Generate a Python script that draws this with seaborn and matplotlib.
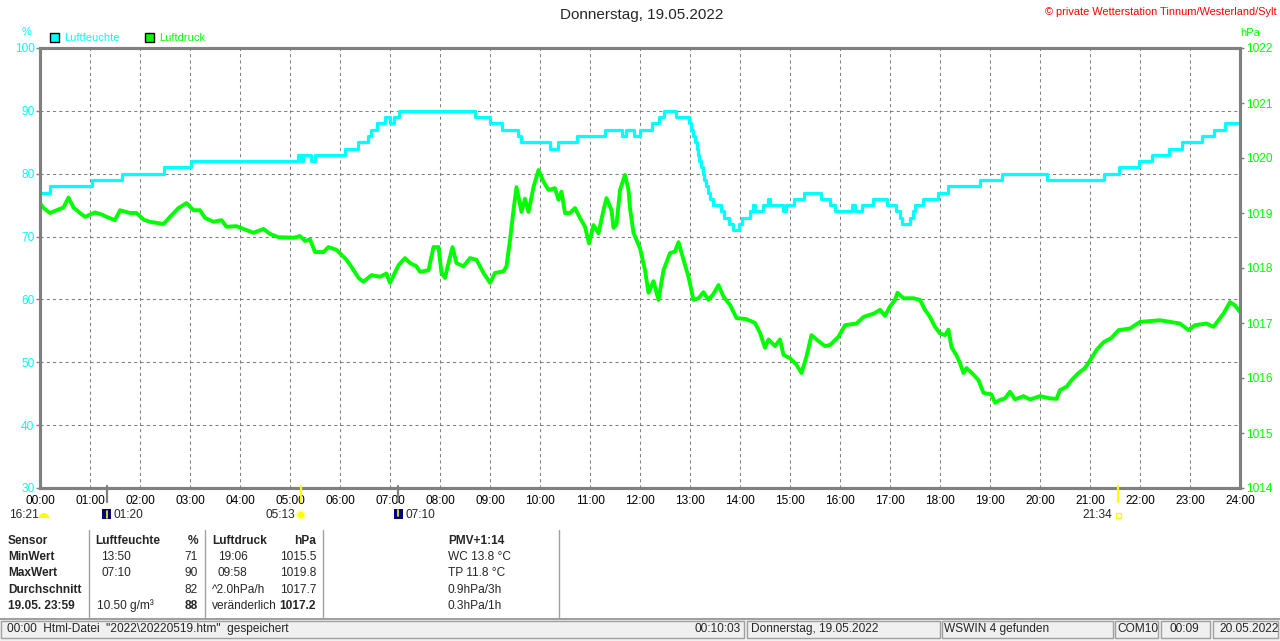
import matplotlib
matplotlib.use("Agg")
import matplotlib.pyplot as plt
import seaborn as sns
from matplotlib.patches import Rectangle, Wedge, Circle

# Luftfeuchte (%), step changes: hour -> value
hum_t = [0.00, 0.20, 1.04, 1.64, 2.47, 3.02, 5.16, 5.22, 5.26, 5.42, 5.50,
         6.10, 6.36, 6.56, 6.62, 6.73, 6.90, 7.00, 7.07, 7.17, 8.70, 9.00,
         9.24, 9.56, 9.62, 10.20, 10.36, 10.74, 11.30, 11.64, 11.72, 11.87,
         12.00, 12.23, 12.37, 12.47, 12.72, 12.98, 13.02, 13.06, 13.10, 13.14,
         13.16, 13.18, 13.22, 13.26, 13.28, 13.32, 13.36, 13.40, 13.46, 13.62,
         13.67, 13.78, 13.86, 13.97, 14.04, 14.20, 14.25, 14.30, 14.45, 14.55,
         14.60, 14.85, 14.92, 15.07, 15.27, 15.62, 15.80, 15.90, 16.24, 16.30,
         16.44, 16.66, 16.94, 17.12, 17.20, 17.24, 17.40, 17.46, 17.50, 17.66,
         17.96, 18.16, 18.80, 19.24, 20.13, 21.27, 21.57, 21.97, 22.23, 22.57,
         22.84, 23.24, 23.47, 23.70, 24.00]
hum_v = [77, 78, 79, 80, 81, 82, 83, 82, 83, 82, 83,
         84, 85, 86, 87, 88, 89, 88, 89, 90, 89, 88,
         87, 86, 85, 84, 85, 86, 87, 86, 87, 86,
         87, 88, 89, 90, 89, 88, 87, 86, 85, 84,
         83, 82, 81, 80, 79, 78, 77, 76, 75, 74,
         73, 72, 71, 72, 73, 74, 75, 74, 75, 76,
         75, 74, 75, 76, 77, 76, 75, 74, 75, 74,
         75, 76, 75, 74, 73, 72, 73, 74, 75, 76,
         77, 78, 79, 80, 79, 80, 81, 82, 83, 84,
         85, 86, 87, 88, 88]

# Luftdruck (hPa)
press_t = [0.00, 0.07, 0.20, 0.33, 0.47, 0.57, 0.67, 0.80, 0.90, 1.10, 1.24,
           1.33, 1.50, 1.60, 1.80, 1.93, 2.07, 2.20, 2.47, 2.60, 2.77, 2.93,
           3.07, 3.20, 3.30, 3.47, 3.63, 3.73, 3.93, 4.07, 4.27, 4.47, 4.60,
           4.77, 5.07, 5.20, 5.30, 5.40, 5.50, 5.67, 5.77, 5.93, 6.03, 6.13,
           6.23, 6.37, 6.47, 6.63, 6.80, 6.93, 7.00, 7.17, 7.30, 7.40, 7.53,
           7.60, 7.77, 7.87, 7.97, 8.03, 8.10, 8.17, 8.25, 8.33, 8.47, 8.60,
           8.73, 8.87, 9.00, 9.10, 9.27, 9.33, 9.40, 9.47, 9.53, 9.63, 9.70,
           9.77, 9.87, 9.97, 10.07, 10.17, 10.30, 10.37, 10.43, 10.50, 10.60,
           10.70, 10.80, 10.90, 10.98, 11.07, 11.17, 11.27, 11.33, 11.43, 11.47,
           11.53, 11.60, 11.70, 11.77, 11.80, 11.87, 11.93, 12.00, 12.10, 12.17,
           12.27, 12.37, 12.47, 12.60, 12.70, 12.77, 12.87, 12.97, 13.07, 13.17,
           13.27, 13.37, 13.47, 13.57, 13.67, 13.80, 13.93, 14.13, 14.30, 14.40,
           14.50, 14.57, 14.70, 14.80, 14.87, 15.00, 15.13, 15.23, 15.33, 15.43,
           15.57, 15.70, 15.80, 15.97, 16.10, 16.33, 16.47, 16.67, 16.80, 16.90,
           17.00, 17.10, 17.15, 17.27, 17.47, 17.60, 17.70, 17.80, 17.90, 18.00,
           18.10, 18.17, 18.23, 18.33, 18.40, 18.47, 18.53, 18.67, 18.77, 18.87,
           19.03, 19.10, 19.20, 19.30, 19.40, 19.50, 19.67, 19.80, 20.00, 20.20,
           20.33, 20.40, 20.53, 20.63, 20.77, 20.90, 21.03, 21.13, 21.27, 21.43,
           21.57, 21.80, 22.00, 22.40, 22.60, 22.80, 22.97, 23.10, 23.33, 23.47,
           23.57, 23.67, 23.80, 23.90, 24.00]
press_v = [1019.18, 1019.09, 1019.00, 1019.05, 1019.10, 1019.28, 1019.10, 1019.00,
           1018.93, 1019.01, 1018.97, 1018.93, 1018.87, 1019.05, 1019.00, 1019.00,
           1018.88, 1018.84, 1018.80, 1018.93, 1019.09, 1019.18, 1019.05, 1019.05,
           1018.91, 1018.84, 1018.87, 1018.75, 1018.76, 1018.71, 1018.64, 1018.71,
           1018.62, 1018.56, 1018.55, 1018.58, 1018.49, 1018.52, 1018.29, 1018.29,
           1018.38, 1018.33, 1018.24, 1018.15, 1018.02, 1017.82, 1017.75, 1017.87,
           1017.84, 1017.90, 1017.73, 1018.05, 1018.18, 1018.09, 1018.03, 1017.93,
           1017.96, 1018.38, 1018.38, 1017.91, 1017.82, 1018.09, 1018.38, 1018.09,
           1018.03, 1018.18, 1018.15, 1017.91, 1017.73, 1017.91, 1017.94, 1018.03,
           1018.51, 1019.05, 1019.47, 1019.02, 1019.26, 1019.02, 1019.47, 1019.78,
           1019.57, 1019.42, 1019.45, 1019.24, 1019.39, 1019.00, 1019.00, 1019.09,
           1018.91, 1018.75, 1018.45, 1018.78, 1018.63, 1019.05, 1019.27, 1019.05,
           1018.73, 1018.79, 1019.42, 1019.69, 1019.42, 1019.09, 1018.64, 1018.51,
           1018.36, 1017.96, 1017.55, 1017.76, 1017.42, 1017.96, 1018.27, 1018.30,
           1018.47, 1018.15, 1017.84, 1017.42, 1017.45, 1017.56, 1017.42, 1017.53,
           1017.69, 1017.48, 1017.33, 1017.09, 1017.07, 1017.00, 1016.82, 1016.55,
           1016.70, 1016.58, 1016.70, 1016.42, 1016.36, 1016.24, 1016.09, 1016.39,
           1016.78, 1016.67, 1016.58, 1016.60, 1016.75, 1016.96, 1016.99, 1017.11,
           1017.17, 1017.24, 1017.13, 1017.30, 1017.42, 1017.55, 1017.45, 1017.45,
           1017.42, 1017.24, 1017.11, 1016.93, 1016.81, 1016.78, 1016.88, 1016.56,
           1016.41, 1016.27, 1016.09, 1016.18, 1016.06, 1015.96, 1015.73, 1015.70,
           1015.55, 1015.60, 1015.63, 1015.75, 1015.61, 1015.67, 1015.61, 1015.67,
           1015.63, 1015.62, 1015.78, 1015.84, 1015.96, 1016.09, 1016.18, 1016.36,
           1016.51, 1016.65, 1016.73, 1016.87, 1016.90, 1017.02, 1017.05, 1017.02,
           1016.99, 1016.87, 1016.96, 1016.99, 1016.93, 1017.05, 1017.17, 1017.38,
           1017.32, 1017.20]

hours = list(range(25))
hour_labels = [f"{h:02d}:00" for h in hours]
hum_ticks = [30, 40, 50, 60, 70, 80, 90, 100]
press_ticks = [1014, 1015, 1016, 1017, 1018, 1019, 1020, 1021, 1022]

CYAN = "#00ffff"
GREEN = "#00ff00"
GREY = "#808080"
FS = 8.6

sns.set_style("white")
plt.rcParams["font.family"] = ["Liberation Sans", "DejaVu Sans"]

W, H = 1280, 641
fig = plt.figure(figsize=(12.8, 6.41), dpi=100)


def fx(x):
    return x / W


def fy(y):
    return 1 - y / H


ax = fig.add_axes([fx(40), fy(488), fx(1240) - fx(40), fy(48) - fy(488)])
ax2 = ax.twinx()

sns.lineplot(x=hum_t, y=hum_v, ax=ax, color=CYAN, lw=2.3,
             drawstyle="steps-post", errorbar=None)
sns.lineplot(x=press_t, y=press_v, ax=ax2, color=GREEN, lw=2.8, errorbar=None)

ax.set_xlim(0, 24)
ax.set_ylim(30, 100)
ax2.set_ylim(1014, 1022)
ax.set_xticks(hours)
ax.set_xticklabels(hour_labels)
ax.set_yticks(hum_ticks)
ax2.set_yticks(press_ticks)
ax.set_xlabel("")
ax.set_ylabel("")
ax2.set_ylabel("")

ax.grid(True, color=GREY, linestyle=(0, (3, 3)), linewidth=0.75)
ax2.grid(False)
for a in (ax, ax2):
    for s in a.spines.values():
        s.set_visible(True)
        s.set_color(GREY)
        s.set_linewidth(2.2)

ax.tick_params(axis="x", length=0, pad=5, labelsize=FS, labelcolor="black")
ax.tick_params(axis="y", length=3, width=1, color=GREY, pad=1,
               labelsize=FS, labelcolor=CYAN)
ax2.tick_params(axis="y", length=3, width=1, color=GREY, pad=1.5,
                labelsize=FS, labelcolor=GREEN)

# overlay in pixel coordinates for all the surrounding text
ov = fig.add_axes([0, 0, 1, 1])
ov.set_xlim(0, W)
ov.set_ylim(H, 0)
ov.axis("off")
ov.patch.set_alpha(0)

ov.text(642, 15, "Donnerstag, 19.05.2022", ha="center", va="center", fontsize=11)
ov.text(1277, 12, "© private Wetterstation Tinnum/Westerland/Sylt", ha="right",
        va="center", fontsize=7.9, color="red")
ov.text(27, 32, "%", ha="center", va="center", fontsize=8, color=CYAN)
ov.text(1250, 33, "hPa", ha="center", va="center", fontsize=8, color=GREEN)

# legend
ov.add_patch(Rectangle((50, 33), 9, 9, facecolor=CYAN, edgecolor="black", lw=1))
ov.text(64, 38, "Luftfeuchte", ha="left", va="center", fontsize=8, color=CYAN)
ov.add_patch(Rectangle((145, 33), 9, 9, facecolor=GREEN, edgecolor="black", lw=1))
ov.text(159, 38, "Luftdruck", ha="left", va="center", fontsize=8, color=GREEN)

# sun / moon marks on the time axis
for xm, col in [(107, GREY), (301, "#ffff00"), (398, GREY), (1118, "#ffff00")]:
    ov.plot([xm, xm], [486, 502], color=col, lw=1.6)

ov.text(9, 515, "16:21", ha="left", va="center", fontsize=FS)
ov.add_patch(Wedge((44, 518), 5, 180, 360, facecolor="#ffff00", edgecolor="none"))
ov.add_patch(Rectangle((102, 509), 9, 10, facecolor="#000080", edgecolor="none"))
ov.plot([107, 107], [511, 518], color="#ffff00", lw=1.2)
ov.text(113, 515, "01:20", ha="left", va="center", fontsize=FS)
ov.text(295, 515, "05:13", ha="right", va="center", fontsize=FS)
ov.add_patch(Circle((301, 515), 5, facecolor="#ffffa0", edgecolor="none"))
ov.add_patch(Circle((301, 515), 3.2, facecolor="#ffff00", edgecolor="none"))
ov.add_patch(Rectangle((394, 509), 9, 10, facecolor="#000080", edgecolor="none"))
ov.plot([398, 398], [510, 516], color="#ffff00", lw=1.2)
ov.text(405, 515, "07:10", ha="left", va="center", fontsize=FS)
ov.text(1112, 515, "21:34", ha="right", va="center", fontsize=FS)
ov.add_patch(Rectangle((1116, 513), 5, 5, facecolor="white", edgecolor="#ffff00", lw=1))

# summary table
rows_y = [541, 557, 573, 590, 606]
col_sensor = ["Sensor", "MinWert", "MaxWert", "Durchschnitt", "19.05. 23:59"]
col_hum_time = ["Luftfeuchte", "13:50", "07:10", "", "10.50 g/m³"]
col_hum_val = ["%", "71", "90", "82", "88"]
col_press_time = ["Luftdruck", "19:06", "09:58", "^2.0hPa/h", "veränderlich"]
col_press_val = ["hPa", "1015.5", "1019.8", "1017.7", "1017.2"]
col_pmv = ["PMV+1:14", "WC 13.8 °C", "TP 11.8 °C", "0.9hPa/3h", "0.3hPa/1h"]

for i, y in enumerate(rows_y):
    head = i == 0
    ov.text(8, y, col_sensor[i], ha="left", va="center", fontsize=FS, weight="bold")
    x_ht = 95 if head else (97 if i == 4 else 101)
    ov.text(x_ht, y, col_hum_time[i], ha="left", va="center", fontsize=FS,
            weight="bold" if head else "normal")
    ov.text(198, y, col_hum_val[i], ha="right", va="center", fontsize=FS,
            weight="bold" if head or i == 4 else "normal")
    x_pt = 218 if i in (1, 2) else 212
    ov.text(x_pt, y, col_press_time[i], ha="left", va="center", fontsize=FS,
            weight="bold" if head else "normal")
    ov.text(316, y, col_press_val[i], ha="right", va="center", fontsize=FS,
            weight="bold" if head or i == 4 else "normal")
    ov.text(448, y, col_pmv[i], ha="left", va="center", fontsize=FS,
            weight="bold" if head else "normal")

for xd in [89, 205, 323, 559]:
    ov.plot([xd, xd], [530, 617], color="#a0a0a0", lw=1)
ov.plot([0, W], [619, 619], color="#a0a0a0", lw=1.5)

# status bar
ov.add_patch(Rectangle((0, 620), W, 21, facecolor="#f0f0f0", edgecolor="none"))
panels = [(1, 744), (747, 940), (942, 1113), (1115, 1158), (1161, 1210), (1213, 1278)]
for x0, x1 in panels:
    ov.add_patch(Rectangle((x0, 621), x1 - x0, 17, facecolor="none",
                           edgecolor="#a0a0a0", lw=1))
ov.text(7, 629, '00:00  Html-Datei  "2022\\20220519.htm"  gespeichert',
        ha="left", va="center", fontsize=FS)
ov.text(741, 629, "00:10:03", ha="right", va="center", fontsize=FS)
ov.text(751, 629, "Donnerstag, 19.05.2022", ha="left", va="center", fontsize=FS)
ov.text(944, 629, "WSWIN 4 gefunden", ha="left", va="center", fontsize=FS)
ov.text(1117, 629, "COM10", ha="left", va="center", fontsize=FS)
ov.text(1184, 629, "00:09", ha="center", va="center", fontsize=FS)
ov.text(1219, 629, "20.05.2022", ha="left", va="center", fontsize=FS)

fig.savefig("out.png", dpi=100)
